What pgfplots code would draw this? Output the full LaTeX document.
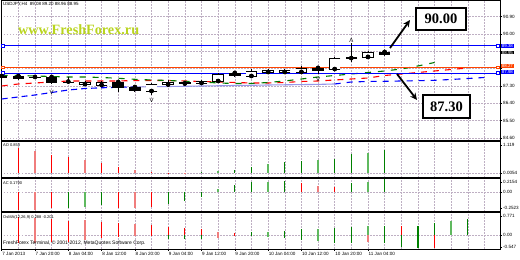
\documentclass[border=0pt]{standalone}
\usepackage{fontspec}
\setmainfont{Liberation Sans}
\newfontfamily\serifb{Liberation Serif}
\usepackage{pgfplots}
\usepackage{pgfplotstable}
\pgfplotsset{compat=1.18}
\usetikzlibrary{arrows.meta}
\newcommand\fs[1]{\fontsize{#1}{#1}\selectfont}
\definecolor{mtred}{RGB}{255,0,0}
\definecolor{mtlred}{RGB}{240,125,125}
\definecolor{mtgreen}{RGB}{0,128,0}
\definecolor{mtlgreen}{RGB}{95,185,95}
\definecolor{gridc}{RGB}{190,175,195}
\definecolor{mtblue}{RGB}{0,0,255}
\definecolor{mtorange}{RGB}{255,69,0}
\definecolor{lav}{RGB}{150,150,235}
\definecolor{wm}{RGB}{185,212,30}
\definecolor{lipsc}{RGB}{0,120,0}

\pgfplotstableread{
t o h l c
0 87.82 87.87 87.66 87.72
1 87.82 87.87 87.61 87.66
2 87.77 87.87 87.66 87.72
3 87.77 87.82 87.40 87.46
4 87.53 87.77 87.40 87.51
7 87.51 87.56 86.99 87.20
8 87.25 87.30 86.99 87.04
14 87.98 88.03 87.77 87.82
19 88.24 88.29 87.92 88.08
23 89.07 89.12 88.86 88.91
}\bearc
\pgfplotstableread{
t o h l c
5 87.40 87.56 87.35 87.51
6 87.35 87.56 87.30 87.51
9 87.04 87.46 86.83 87.40
10 87.38 87.61 87.30 87.51
11 87.43 87.56 87.35 87.51
12 87.46 87.61 87.40 87.56
13 87.56 87.98 87.51 87.92
15 87.82 88.18 87.77 88.08
16 88.03 88.18 87.98 88.13
17 88.03 88.16 88.00 88.13
18 88.03 88.34 87.92 88.24
20 88.18 88.81 88.13 88.75
21 88.75 89.53 88.55 88.81
22 88.81 89.12 88.75 89.07
}\bullc
\pgfplotstableread{
t y
0 87.845
1 87.845
2 87.819
3 87.793
4 87.767
5 87.767
6 87.741
7 87.700
8 87.648
9 87.612
10 87.586
11 87.544
12 87.508
13 87.456
14 87.430
15 87.430
16 87.482
17 87.560
18 87.664
19 87.767
20 87.845
21 87.923
22 88.001
23 88.079
24 88.183
25 88.339
26 88.520
}\lips
\pgfplotstableread{
t y
0 87.300
1 87.404
2 87.456
3 87.508
4 87.560
5 87.560
6 87.560
7 87.560
8 87.586
9 87.586
10 87.586
11 87.560
12 87.534
13 87.508
14 87.482
15 87.456
16 87.456
17 87.482
18 87.534
19 87.560
20 87.612
21 87.664
22 87.715
23 87.845
24 87.923
25 88.001
26 88.079
27 88.157
28 88.235
}\teeth
\pgfplotstableread{
t y
0 86.625
1 86.729
2 86.833
3 86.963
4 87.092
5 87.170
6 87.207
7 87.233
8 87.248
9 87.259
10 87.274
11 87.285
12 87.300
13 87.311
14 87.326
15 87.336
16 87.352
17 87.362
18 87.373
19 87.383
20 87.404
21 87.508
22 87.534
23 87.544
24 87.560
25 87.575
26 87.596
27 87.638
28 87.690
29 87.741
}\jaw

\pgfplotsset{
  mtpanel/.style={
    scale only axis, width=499pt, anchor=south west,
    xmin=-0.042, xmax=29.93,
    xtick={0,2,4,6,8,10,12,14,16,18,20,22},
    minor xtick={1,3,5,7,9,11,13,15,17,19,21,23,24,25,26,27,28,29},
    xmajorgrids, xminorgrids, ymajorgrids,
    grid style={gridc, dash pattern=on 1.5pt off 1.5pt, line width=0.4pt},
    minor grid style={gridc, dash pattern=on 1.5pt off 1.5pt, line width=0.4pt},
    xticklabels={},
    axis line style={line width=0.6pt},
    ytick pos=right, yticklabel pos=right,
    tick align=outside, major tick length=2pt, minor tick length=0pt,
    xtick style={draw=none},
    ytick style={black, line width=0.4pt},
    yticklabel style={font=\fs{4.6}, inner sep=1pt},
  },
  candle/.style={only marks, mark=none, forget plot},
}

\begin{document}
\begin{tikzpicture}
\useasboundingbox (0,0) rectangle (520pt,260pt);

% ---------------- main price panel ----------------
\begin{axis}[mtpanel, at={(1pt,119pt)}, height=141pt,
  ymin=84.444, ymax=91.765,
  ytick={84.6,85.5,86.4,87.3,88.2,89.1,90.0,90.9},
  yticklabels={84.60,85.50,86.40,87.30,{},{},90.00,90.90}]
  % alligator
  \addplot[mtblue, line width=1.1pt, dash pattern=on 6pt off 4pt] table[x=t,y=y, restrict x to domain=0:8] {\jaw};
  \addplot[lav, line width=1.1pt] table[x=t,y=y, restrict x to domain=8:20] {\jaw};
  \addplot[mtblue, line width=1.1pt, dash pattern=on 6pt off 6pt] table[x=t,y=y, restrict x to domain=20:29] {\jaw};
  \addplot[mtred, line width=1.1pt, dash pattern=on 6pt off 6pt] table[x=t,y=y] {\teeth};
  \addplot[lipsc, line width=1.1pt, dash pattern=on 6pt off 7pt] table[x=t,y=y] {\lips};
  % horizontal levels
  \addplot[mtblue, line width=0.9pt, mark=square*, mark size=1.3pt, mark options={fill=white, solid, line width=0.6pt}] coordinates {(0.08,89.38) (29.78,89.38)};
  \addplot[mtorange, line width=0.9pt, mark=square*, mark size=1.3pt, mark options={fill=white, solid, line width=0.6pt}] coordinates {(0.08,88.27) (29.78,88.27)};
  \addplot[mtblue, line width=0.9pt, mark=square*, mark size=1.3pt, mark options={fill=white, solid, line width=0.6pt}] coordinates {(0.08,87.975) (29.78,87.975)};
  % wicks
  \addplot[candle, error bars/.cd, y dir=both, y explicit, error mark=none, error bar style={black, solid, line width=0.8pt}]
    table[x=t, y=o, y error plus expr=\thisrow{h}-\thisrow{o}, y error minus expr=\thisrow{o}-\thisrow{l}] {\bearc};
  \addplot[candle, error bars/.cd, y dir=both, y explicit, error mark=none, error bar style={black, solid, line width=0.8pt}]
    table[x=t, y=o, y error plus expr=\thisrow{h}-\thisrow{o}, y error minus expr=\thisrow{o}-\thisrow{l}] {\bullc};
  % bear bodies
  \addplot[candle, error bars/.cd, y dir=minus, y explicit, error mark=none, error bar style={black, solid, line width=11.5pt}]
    table[x=t, y=o, y error minus expr=\thisrow{o}-\thisrow{c}] {\bearc};
  % bull bodies: black outline, white fill, top and bottom edges
  \addplot[candle, error bars/.cd, y dir=plus, y explicit, error mark=none, error bar style={black, solid, line width=11.5pt}]
    table[x=t, y=o, y error plus expr=\thisrow{c}-\thisrow{o}] {\bullc};
  \addplot[candle, error bars/.cd, y dir=plus, y explicit, error mark=none, error bar style={white, solid, line width=10.1pt}]
    table[x=t, y=o, y error plus expr=\thisrow{c}-\thisrow{o}] {\bullc};
  \addplot[only marks, forget plot, mark=-, mark size=5.75pt, mark options={black, solid, line width=0.7pt}] table[x=t, y=o] {\bullc};
  \addplot[only marks, forget plot, mark=-, mark size=5.75pt, mark options={black, solid, line width=0.7pt}] table[x=t, y=c] {\bullc};
  % fractals
  \addplot[only marks, mark=text, text mark={\fs{6}V}] coordinates {(3,86.94) (9,86.57) (19,87.64)};
  \addplot[only marks, mark=text, text mark={\fs{6}Λ}] coordinates {(21,89.69)};
\end{axis}

% ---------------- AO ----------------
\begin{axis}[mtpanel, at={(1pt,82pt)}, height=37pt,
  ymin=-0.2, ymax=1.28, ytick={0}, yticklabels={0.0054},
  extra y ticks={1.12}, extra y tick labels={1.119}, extra y tick style={grid=none}]
  \addplot[ycomb, mtred, line width=1.2pt] coordinates {(1,1.00)(3,0.72)(4,0.64)(6,0.40)(7,0.24)(9,0.03)(10,-0.04)};
  \addplot[ycomb, mtlred, line width=2.2pt] coordinates {(2,0.88)(5,0.52)(8,0.12)(11,-0.05)};
  \addplot[ycomb, mtgreen, line width=1.2pt] coordinates {(12,0.02)(14,0.12)(15,0.24)(17,0.44)(18,0.48)(20,0.56)(21,0.76)(23,0.92)};
  \addplot[ycomb, mtlgreen, line width=2.2pt] coordinates {(13,0.07)(16,0.36)(19,0.52)(22,0.80)};
\end{axis}

% ---------------- AC ----------------
\begin{axis}[mtpanel, at={(1pt,48pt)}, height=34pt,
  ymin=-0.308, ymax=0.2156, ytick={0}, yticklabels={0.00},
  extra y ticks={0.154,-0.246}, extra y tick labels={0.2154,-0.2523}, extra y tick style={grid=none}]
  \addplot[ycomb, mtred, line width=1.2pt] coordinates {(1,-0.277)(3,-0.246)(7,-0.246)(9,-0.231)(18,0.139)(20,0.077)};
  \addplot[ycomb, mtlred, line width=2.2pt] coordinates {(2,-0.277)(8,-0.246)(19,0.092)};
  \addplot[ycomb, mtgreen, line width=1.2pt] coordinates {(4,-0.246)(6,-0.200)(10,-0.185)(11,-0.139)(12,-0.077)(14,0.108)(15,0.154)(17,0.169)(21,0.139)(23,0.200)};
  \addplot[ycomb, mtlgreen, line width=2.2pt] coordinates {(5,-0.231)(13,0.046)(16,0.154)(22,0.154)};
\end{axis}

% ---------------- OsMA ----------------
\begin{axis}[mtpanel, at={(1pt,11pt)}, height=37pt,
  ymin=-0.469, ymax=0.7705, ytick={0}, yticklabels={0.00},
  extra y ticks={0.6365,-0.402}, extra y tick labels={0.771,-0.547}, extra y tick style={grid=none},
  xtick pos=bottom, xtick style={draw=black, line width=0.4pt},
  xticklabels={7 Jan 2013,7 Jan 20:00,8 Jan 04:00,8 Jan 12:00,8 Jan 20:00,9 Jan 04:00,9 Jan 12:00,9 Jan 20:00,10 Jan 04:00,10 Jan 12:00,10 Jan 20:00,11 Jan 04:00},
  xticklabel style={font=\fs{4.6}, anchor=north west, inner sep=1pt, xshift=-0.5pt}]
  \addplot[ycomb, mtred, line width=1.2pt] coordinates {(1,0.603)(1,-0.268)(3,0.536)(3,-0.235)(4,0.469)(4,-0.235)(6,0.436)(6,-0.101)(7,0.402)(7,-0.067)(9,0.335)(9,-0.034)(10,0.268)(11,0.235)(12,0.201)(14,0.067)(14,-0.034)(24,0.302)(26,-0.436)};
  \addplot[ycomb, mtlred, line width=2.2pt] coordinates {(2,0.570)(2,-0.268)(5,0.503)(5,-0.168)(8,0.369)(8,-0.034)(13,0.101)(13,-0.101)(22,-0.235)};
  \addplot[ycomb, mtgreen, line width=1.2pt] coordinates {(10,-0.134)(11,-0.134)(12,-0.134)(15,0.101)(15,-0.034)(17,0.134)(17,-0.101)(18,0.201)(18,-0.168)(20,0.235)(20,-0.268)(21,0.268)(21,-0.268)(23,0.302)(23,-0.268)(24,-0.402)(25,0.302)(25,-0.436)(26,0.402)(28,0.536)};
  \addplot[ycomb, mtlgreen, line width=2.2pt] coordinates {(16,0.101)(16,-0.067)(19,0.201)(19,-0.201)(22,0.302)(27,0.469)};
\end{axis}

% panel separators
\draw[line width=1.8pt] (1pt,119pt) -- (500pt,119pt);
\draw[line width=1.8pt] (1pt,82pt) -- (500pt,82pt);
\draw[line width=1.8pt] (1pt,48pt) -- (500pt,48pt);

% texts
\node[anchor=west, inner sep=0pt, font=\fs{4.5}] at (3pt,256pt) {USDJPY,H4\ \ 89.08 89.20 88.96 88.95};
\node[anchor=base west, inner sep=0pt, text=wm, font=\serifb\bfseries\fs{14.2}] at (18pt,225pt) {www.FreshForex.ru};
\node[anchor=west, inner sep=0pt, font=\fs{4}] at (3pt,114.5pt) {AO 0.853};
\node[anchor=west, inner sep=0pt, font=\fs{4}] at (3pt,77pt) {AC 0.1790};
\node[anchor=west, inner sep=0pt, font=\fs{4}] at (3pt,42.5pt) {OsMA(12,26,9) 0.288 -0.201};
\node[anchor=west, inner sep=0pt, font=\fs{5}] at (3pt,17pt) {FreshForex Terminal, © 2001-2012, MetaQuotes Software Corp.};

% price boxes on the scale
\node[anchor=west, fill=mtblue, text=white, inner xsep=1.2pt, inner ysep=0.4pt, font=\fs{4.4}] at (500.5pt,214pt) {89.38};
\node[anchor=west, fill=black, text=white, inner xsep=1.2pt, inner ysep=0.4pt, font=\fs{4.4}] at (500.5pt,207.5pt) {88.95};
\node[anchor=west, fill=mtorange, text=white, inner xsep=1.2pt, inner ysep=0.4pt, font=\fs{4.4}] at (500.5pt,193.6pt) {88.27};
\node[anchor=west, fill=mtblue, text=white, inner xsep=1.2pt, inner ysep=0.4pt, font=\fs{4.4}] at (500.5pt,187.6pt) {87.98};

% forecast annotations
\draw[line width=1.8pt, -{Stealth[length=7pt, width=6.5pt]}] (390pt,212pt) -- (410pt,240pt);
\draw[line width=1.8pt, -{Stealth[length=7pt, width=6.5pt]}] (397pt,186pt) -- (417pt,160pt);
\node[draw, line width=2pt, fill=white, minimum width=50pt, minimum height=22pt, inner sep=0pt, font=\serifb\bfseries\fs{14.5}] at (441pt,241pt) {90.00};
\node[draw, line width=2pt, fill=white, minimum width=47pt, minimum height=23pt, inner sep=0pt, font=\serifb\bfseries\fs{14.5}] at (446.5pt,153.5pt) {87.30};
\end{tikzpicture}
\end{document}
